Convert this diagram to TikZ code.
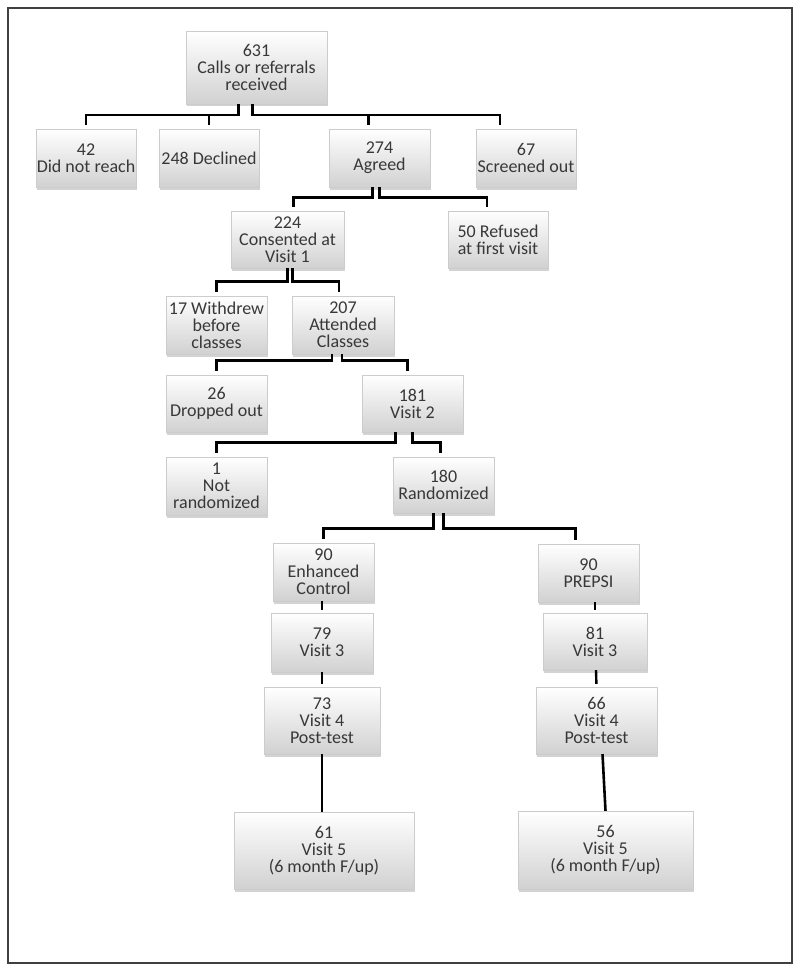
\documentclass[tikz,border=0pt]{standalone}
\usepackage{fontspec}
\setmainfont{Carlito}
\usetikzlibrary{shadows}
\tikzset{
  flowbox/.style={rectangle, draw=black!20, line width=0.4pt, top color=white, bottom color=black!18,
    drop shadow={shadow xshift=0.6pt, shadow yshift=-2.5pt, opacity=0.35},
    inner sep=0pt, align=center, text=black!78, font=\fontsize{18}{17}\selectfont},
  elbow/.style={line width=2.6pt, shorten >=4pt},
  straight/.style={line width=2.4pt, shorten >=3pt}
}
\begin{document}
\begin{tikzpicture}[x=1pt,y=-1pt]
\useasboundingbox (0,0) rectangle (800,971);
\draw [line width=1.2pt, black!75] (8,8) rectangle (792,963);

\node [flowbox, minimum width=141, minimum height=73] (calls) at (256.5,67.5) {631\\Calls or referrals\\received};
\node [flowbox, minimum width=100, minimum height=58] (noreach) at (86,158) {42\\Did not reach};
\node [flowbox, minimum width=100, minimum height=58] (declined) at (209,158) {248 Declined};
\node [flowbox, minimum width=101, minimum height=58] (agreed) at (379.5,158) {274\\Agreed};
\node [flowbox, minimum width=100, minimum height=58] (screened) at (526,158) {67\\Screened out};
\node [flowbox, minimum width=113, minimum height=57] (consent) at (287.5,239.5) {224\\Consented at\\Visit 1};
\node [flowbox, minimum width=100, minimum height=57] (refused) at (498,239.5) {50 Refused\\at first visit};
\node [flowbox, minimum width=101, minimum height=58] (withdrew) at (216.5,325) {17 Withdrew\\before\\classes};
\node [flowbox, minimum width=102, minimum height=58] (attended) at (343,325) {207\\Attended\\Classes};
\node [flowbox, minimum width=101, minimum height=57] (dropped) at (216.5,403.5) {26\\Dropped out};
\node [flowbox, minimum width=101, minimum height=57] (visittwo) at (412.5,403.5) {181\\Visit 2};
\node [flowbox, minimum width=101, minimum height=58] (notrand) at (216.5,486) {1\\Not\\randomized};
\node [flowbox, minimum width=101, minimum height=56] (randomized) at (443.5,485) {180\\Randomized};
\node [flowbox, minimum width=101, minimum height=58] (control) at (323.5,572) {90\\Enhanced\\Control};
\node [flowbox, minimum width=101, minimum height=58] (prepsi) at (588.5,573) {90\\PREPSI};
\node [flowbox, minimum width=102, minimum height=59] (visitthreeA) at (322,642.5) {79\\Visit 3};
\node [flowbox, minimum width=104, minimum height=57] (visitthreeB) at (595,641.5) {81\\Visit 3};
\node [flowbox, minimum width=116, minimum height=67] (visitfourA) at (322,720.5) {73\\Visit 4\\Post-test};
\node [flowbox, minimum width=121, minimum height=67] (visitfourB) at (596.5,720.5) {66\\Visit 4\\Post-test};
\node [flowbox, minimum width=180, minimum height=77] (visitfiveA) at (324,850.5) {61\\Visit 5\\(6 month F/up)};
\node [flowbox, minimum width=175, minimum height=78] (visitfiveB) at (605.5,850) {56\\Visit 5\\(6 month F/up)};

% first split
\draw [elbow] ([xshift=-18]calls.south) -- ++(0,11) -| (noreach.north);
\draw [elbow] ([xshift=-18]calls.south) -- ++(0,11) -| (declined.north);
\draw [elbow] ([xshift=-4]calls.south) -- ++(0,11) -| ([xshift=-11]agreed.north);
\draw [elbow] ([xshift=-4]calls.south) -- ++(0,11) -| ([xshift=-26]screened.north);

\draw [elbow] ([xshift=-7]agreed.south) -- ++(0,10) -| ([xshift=6]consent.north);
\draw [elbow] (agreed.south) -- ++(0,10) -| ([xshift=-11]refused.north);

\draw [elbow] (consent.south) -- ++(0,13) -| (withdrew.north);
\draw [elbow] ([xshift=5]consent.south) -- ++(0,13) -| ([xshift=-4]attended.north);

\draw [elbow] ([xshift=-11]attended.south) -- ++(0,6) -| (dropped.north);
\draw [elbow] ([xshift=-1]attended.south) -- ++(0,6) -| ([xshift=-5]visittwo.north);

\draw [elbow] ([xshift=-17]visittwo.south) -- ++(0,10) -| (notrand.north);
\draw [elbow] (visittwo.south) -- ++(0,10) -| ([xshift=-3]randomized.north);

\draw [elbow] ([xshift=-10]randomized.south) -- ++(0,15) -| (control.north);
\draw [elbow] (randomized.south) -- ++(0,15) -| ([xshift=-13]prepsi.north);

% the two arms
\draw [straight] ([xshift=-1.5]control.south) -- (visitthreeA.north);
\draw [straight] (visitthreeA.south) -- (visitfourA.north);
\draw [line width=1.8pt] (visitfourA.south) -- (visitfourA.south |- visitfiveA.north);
\draw [straight] (visitthreeB.north |- prepsi.south) -- (visitthreeB.north);
\draw [straight] ([xshift=1]visitthreeB.south) -- (visitfourB.north);
\draw [line width=2.6pt] ([xshift=6]visitfourB.south) -- (visitfiveB.north);
\end{tikzpicture}
\end{document}
